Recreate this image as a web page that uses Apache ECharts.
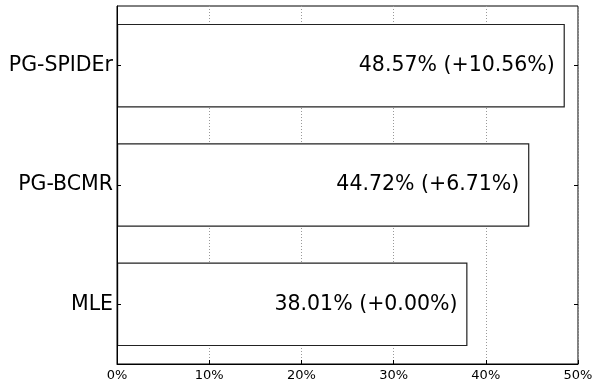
<!DOCTYPE html>
<html>
<head>
<meta charset="utf-8">
<script src="https://cdn.jsdelivr.net/npm/echarts@6/dist/echarts.min.js"></script>
<style>
  html, body { margin: 0; padding: 0; background: #fff; }
  #chart { width: 593px; height: 380px; }
</style>
</head>
<body>
<div id="chart"></div>
<script>
// Methods listed bottom to top, with score and gain over the MLE baseline (%)
const methods = ['MLE', 'PG-BCMR', 'PG-SPIDEr'];
const scores = [38.01, 44.72, 48.57];
const gains = [0.00, 6.71, 10.56];
const xTicks = [0, 10, 20, 30, 40, 50];

const font = 'DejaVu Sans';
const chart = echarts.init(document.getElementById('chart'), null, { renderer: 'canvas' });

chart.setOption({
  animation: false,
  backgroundColor: '#fff',
  grid: {
    left: 117, right: 15, top: 6, bottom: 16,
    containLabel: false,
    outerBoundsMode: 'none',
    show: true, borderColor: '#000', borderWidth: 1, backgroundColor: 'transparent'
  },
  xAxis: [{
    type: 'value',
    min: xTicks[0], max: xTicks[xTicks.length - 1], interval: 10,
    axisLine: { show: true, lineStyle: { color: '#000', width: 1 } },
    axisTick: { show: true, inside: true, length: 4, lineStyle: { color: '#000' } },
    axisLabel: { formatter: '{value}%', fontFamily: font, fontSize: 13, color: '#000', margin: 5 },
    splitLine: { show: true, lineStyle: { color: '#999', type: [1, 2], width: 1 } }
  }],
  yAxis: [{
    type: 'category',
    z: 5,
    data: methods,
    axisLine: { show: true, lineStyle: { color: '#000', width: 1 } },
    axisTick: { show: true, inside: true, length: 4, alignWithLabel: true, lineStyle: { color: '#000' } },
    axisLabel: { fontFamily: font, fontSize: 20.5, color: '#000', margin: 4 },
    splitLine: { show: false }
  }, {
    type: 'category', position: 'right',
    z: 5,
    data: methods,
    axisLine: { show: false },
    axisTick: { show: true, inside: true, length: 4, alignWithLabel: true, lineStyle: { color: '#000' } },
    axisLabel: { show: false },
    splitLine: { show: false }
  }],
  series: [{
    type: 'bar',
    data: scores,
    barCategoryGap: '30%',
    itemStyle: { color: '#fff', borderColor: '#222', borderWidth: 1.2 },
    label: {
      show: true,
      position: 'insideRight',
      distance: 10,
      fontFamily: font,
      fontSize: 20.5,
      color: '#000',
      formatter: p => scores[p.dataIndex].toFixed(2) + '% (+' + gains[p.dataIndex].toFixed(2) + '%)'
    }
  }]
});
</script>
</body>
</html>
